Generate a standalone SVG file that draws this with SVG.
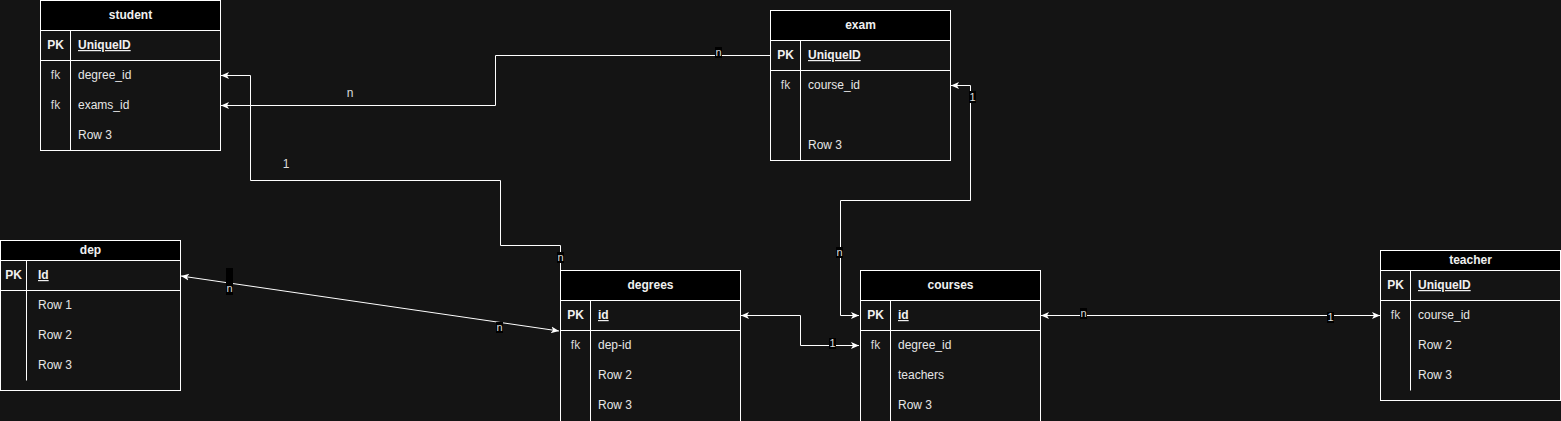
<svg xmlns="http://www.w3.org/2000/svg" width="1561" height="421" viewBox="0 0 1561 421">
<style>
.bg{fill:#141414}
.box{fill:none;stroke:#ffffff;stroke-width:1}
.hdr{fill:#000000;stroke:#ffffff;stroke-width:1}
.ln{stroke:#ffffff;stroke-width:1;fill:none}
.ht{font-family:"Liberation Sans",Arial,sans-serif;font-size:12px;font-weight:bold;fill:#f0f0f0;text-anchor:middle}
.pk{font-family:"Liberation Sans",Arial,sans-serif;font-size:12px;font-weight:bold;fill:#f0f0f0;text-anchor:middle}
.key{font-family:"Liberation Sans",Arial,sans-serif;font-size:12px;font-weight:bold;fill:#f0f0f0;text-decoration:underline}
.fk{font-family:"Liberation Sans",Arial,sans-serif;font-size:12px;fill:#d8d8d8;text-anchor:middle}
.rt{font-family:"Liberation Sans",Arial,sans-serif;font-size:12px;fill:#e6e6e6}
.edge{stroke:#ffffff;stroke-width:1;fill:none}
.lbl{font-family:"Liberation Sans",Arial,sans-serif;font-size:11px;fill:#dddddd;text-anchor:middle}
.plain{font-family:"Liberation Sans",Arial,sans-serif;font-size:12px;fill:#dddddd;text-anchor:middle}
.lbg{fill:#000000}
</style>
<defs>
<marker id="arr" markerUnits="userSpaceOnUse" markerWidth="10" markerHeight="10" refX="8" refY="4" orient="auto-start-reverse" viewBox="0 0 10 8">
<path d="M0,0.5 L8,4 L0,7.5 L2,4 Z" fill="#ffffff"/>
</marker>
</defs>
<rect class="bg" x="0" y="0" width="1561" height="421"/>

<g id="student">
<rect class="hdr" x="40.5" y="0.5" width="180" height="30"/>
<rect class="box" x="40.5" y="0.5" width="180" height="150"/>
<line class="ln" x1="40.5" y1="60.5" x2="220.5" y2="60.5"/>
<line class="ln" x1="70.5" y1="30.5" x2="70.5" y2="150.5"/>
<text class="ht" x="130.5" y="19">student</text>
<text class="pk" x="55.5" y="49">PK</text>
<text class="key" x="78" y="49">UniqueID</text>
<text class="fk" x="55.5" y="79">fk</text>
<text class="rt" x="78" y="79">degree_id</text>
<text class="fk" x="55.5" y="109">fk</text>
<text class="rt" x="78" y="109">exams_id</text>
<text class="rt" x="78" y="139">Row 3</text>
</g>

<g id="exam">
<rect class="hdr" x="770.5" y="10.5" width="180" height="30"/>
<rect class="box" x="770.5" y="10.5" width="180" height="150"/>
<line class="ln" x1="770.5" y1="70.5" x2="950.5" y2="70.5"/>
<line class="ln" x1="800.5" y1="40.5" x2="800.5" y2="160.5"/>
<text class="ht" x="860.5" y="29">exam</text>
<text class="pk" x="785.5" y="59">PK</text>
<text class="key" x="808" y="59">UniqueID</text>
<text class="fk" x="785.5" y="89">fk</text>
<text class="rt" x="808" y="89">course_id</text>
<text class="rt" x="808" y="149">Row 3</text>
</g>

<g id="dep">
<rect class="hdr" x="0.5" y="240.5" width="180" height="20"/>
<rect class="box" x="0.5" y="240.5" width="180" height="150"/>
<line class="ln" x1="0.5" y1="290.5" x2="180.5" y2="290.5"/>
<line class="ln" x1="26.5" y1="260.5" x2="26.5" y2="380.5"/>
<text class="ht" x="90.5" y="254">dep</text>
<text class="pk" x="13.5" y="279">PK</text>
<text class="key" x="38" y="279">Id</text>
<text class="rt" x="38" y="309">Row 1</text>
<text class="rt" x="38" y="339">Row 2</text>
<text class="rt" x="38" y="369">Row 3</text>
</g>

<g id="degrees">
<rect class="hdr" x="560.5" y="270.5" width="180" height="30"/>
<rect class="box" x="560.5" y="270.5" width="180" height="160"/>
<line class="ln" x1="560.5" y1="330.5" x2="740.5" y2="330.5"/>
<line class="ln" x1="590.5" y1="300.5" x2="590.5" y2="430"/>
<text class="ht" x="650.5" y="289">degrees</text>
<text class="pk" x="575.5" y="319">PK</text>
<text class="key" x="598" y="319">id</text>
<text class="fk" x="575.5" y="349">fk</text>
<text class="rt" x="598" y="349">dep-id</text>
<text class="rt" x="598" y="379">Row 2</text>
<text class="rt" x="598" y="409">Row 3</text>
</g>

<g id="courses">
<rect class="hdr" x="860.5" y="270.5" width="180" height="30"/>
<rect class="box" x="860.5" y="270.5" width="180" height="160"/>
<line class="ln" x1="860.5" y1="330.5" x2="1040.5" y2="330.5"/>
<line class="ln" x1="890.5" y1="300.5" x2="890.5" y2="430"/>
<text class="ht" x="950.5" y="289">courses</text>
<text class="pk" x="875.5" y="319">PK</text>
<text class="key" x="898" y="319">id</text>
<text class="fk" x="875.5" y="349">fk</text>
<text class="rt" x="898" y="349">degree_id</text>
<text class="rt" x="898" y="379">teachers</text>
<text class="rt" x="898" y="409">Row 3</text>
</g>

<g id="teacher">
<rect class="hdr" x="1380.5" y="250.5" width="180" height="20"/>
<rect class="box" x="1380.5" y="250.5" width="180" height="150"/>
<line class="ln" x1="1380.5" y1="300.5" x2="1560.5" y2="300.5"/>
<line class="ln" x1="1410.5" y1="270.5" x2="1410.5" y2="390.5"/>
<text class="ht" x="1470.5" y="264">teacher</text>
<text class="pk" x="1395.5" y="289">PK</text>
<text class="key" x="1418" y="289">UniqueID</text>
<text class="fk" x="1395.5" y="319">fk</text>
<text class="rt" x="1418" y="319">course_id</text>
<text class="rt" x="1418" y="349">Row 2</text>
<text class="rt" x="1418" y="379">Row 3</text>
</g>

<g id="connectors">
<path class="edge" d="M770,55.5 H495.5 V105.5 H221" marker-end="url(#arr)"/>
<path class="edge" d="M560.5,270 V245.5 H500.5 V180.5 H250.5 V75.5 H221" marker-end="url(#arr)"/>
<path class="edge" d="M181,276 L559,331" marker-start="url(#arr)" marker-end="url(#arr)"/>
<path class="edge" d="M741,315.5 H800.5 V345.5 H859" marker-start="url(#arr)" marker-end="url(#arr)"/>
<path class="edge" d="M859,315.5 H840.5 V200.5 H970.5 V85.5 H951" marker-start="url(#arr)" marker-end="url(#arr)"/>
<path class="edge" d="M1041,315.5 H1380" marker-start="url(#arr)" marker-end="url(#arr)"/>

<rect class="lbg" x="715" y="47" width="7" height="11"/>
<text class="lbl" x="718.5" y="56">n</text>
<text class="plain" x="350" y="97">n</text>
<text class="plain" x="286" y="168">1</text>
<rect class="lbg" x="557" y="252" width="7" height="11"/>
<text class="lbl" x="560.5" y="261">n</text>
<rect class="lbg" x="226" y="268" width="7" height="27"/>
<text class="lbl" x="229.5" y="292">n</text>
<rect class="lbg" x="496" y="322" width="7" height="11"/>
<text class="lbl" x="499.5" y="331">n</text>
<rect class="lbg" x="829" y="338" width="7" height="11"/>
<text class="lbl" x="832.5" y="347">1</text>
<rect class="lbg" x="969" y="91" width="7" height="12"/>
<text class="lbl" x="972.5" y="101">1</text>
<rect class="lbg" x="836" y="247" width="7" height="11"/>
<text class="lbl" x="839.5" y="256">n</text>
<rect class="lbg" x="1080" y="308" width="7" height="11"/>
<text class="lbl" x="1083.5" y="317">n</text>
<rect class="lbg" x="1327" y="312" width="7" height="11"/>
<text class="lbl" x="1330.5" y="321">1</text>
</g>
</svg>
